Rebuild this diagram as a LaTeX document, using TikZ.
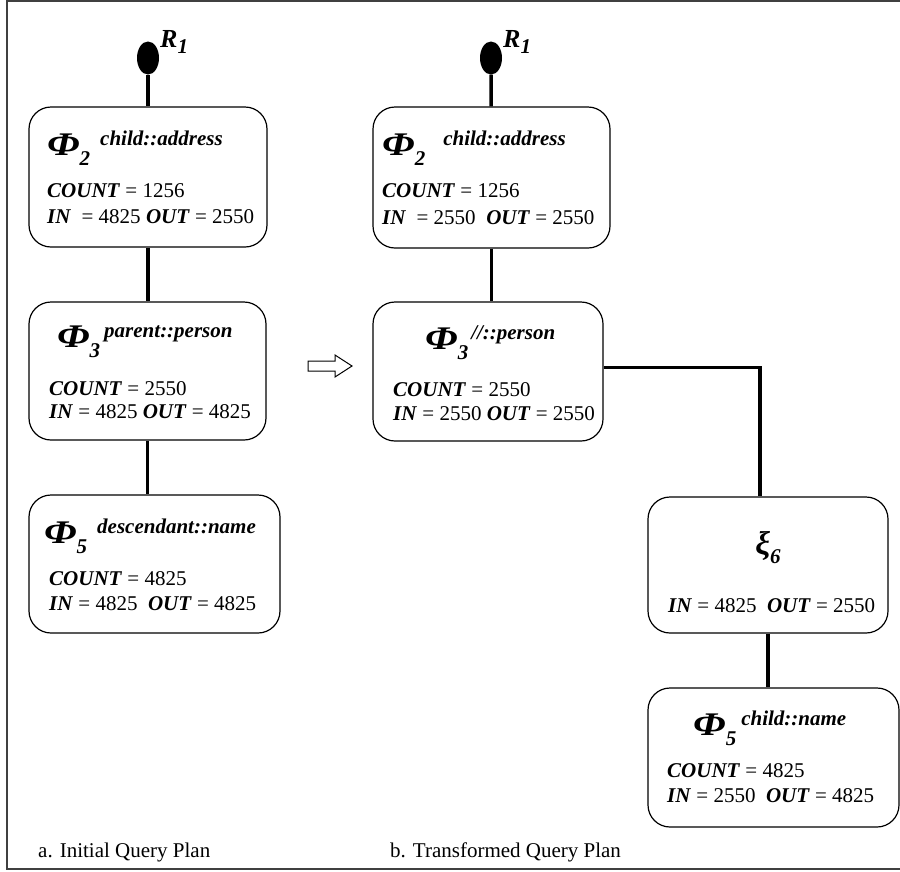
\documentclass[tikz,border=0pt]{standalone}
\usepackage{fontspec}
\setmainfont{Liberation Serif}
\usetikzlibrary{shapes.geometric}
\newcommand{\bfit}[1]{\textbf{\textit{#1}}}
\newcommand{\qop}[4][8pt]{{\fontsize{33}{33}\selectfont\scalebox{1.25}[1]{\bfit{#2}}}\raisebox{-10pt}{\bfit{#3}}\hspace{#1}\raisebox{10pt}{\bfit{#4}}}
\newcommand{\rootlab}{{\fontsize{26}{26}\selectfont\bfit{R}}\raisebox{-6pt}{\bfit{1}}}
\tikzset{
  opbox/.style={draw, rounded corners=22pt, line width=1.2pt, inner sep=0pt},
  wire/.style={line width=3.5pt},
  rootdot/.style={ellipse, fill=black, inner sep=0pt, minimum width=22pt, minimum height=33pt},
  info/.style={anchor=base west, inner sep=0pt},
}
\begin{document}
\begin{tikzpicture}[x=1pt, y=-1pt, every node/.style={font=\fontsize{21}{25}\selectfont}]
        \useasboundingbox (0,0) rectangle (900,871);
        \draw [line width=2pt, black!75] (900,1) -- (7,1) -- (7,869) -- (900,869);
        \node [rootdot] (lroot) at (148,58) {};
        \node [info] (lrootlab) at (160,47) {\rootlab};
        \node [opbox, minimum width=238pt, minimum height=140pt] (lb1) at (148,177) {};
        \node [info] (lb1h) at (47,155) {\qop[10pt]{Φ}{2}{child::address}};
        \node [info] (lb1c) at (47,197) {\bfit{COUNT} = 1256};
        \node [info] (lb1n) at (47,223) {\bfit{IN}\ \ = 4825 \bfit{OUT} = 2550};
        \node [opbox, minimum width=237pt, minimum height=138pt] (lb2) at (147.5,371) {};
        \node [info] (lb2h) at (57,347) {\qop[4pt]{Φ}{3}{parent::person}};
        \node [info] (lb2c) at (49,395) {\bfit{COUNT} = 2550};
        \node [info] (lb2n) at (49,418) {\bfit{IN} = 4825 \bfit{OUT} = 4825};
        \node [opbox, minimum width=251pt, minimum height=138pt] (lb3) at (154.5,564) {};
        \node [info] (lb3h) at (44,543) {\qop[10pt]{Φ}{5}{descendant::name}};
        \node [info] (lb3c) at (49,585) {\bfit{COUNT} = 4825};
        \node [info] (lb3n) at (49,610) {\bfit{IN} = 4825\ \ \bfit{OUT} = 4825};
        \draw [wire] (lroot) -- (lb1);
        \draw [wire] (lb1.south) -- (lb1.south |- lb2.north);
        \draw [wire] (lb2.south) -- (lb2.south |- lb3.north);
        \draw [line width=1pt] (308,361) -- (335,361) -- (335,355) -- (352,366) -- (335,377) -- (335,371) -- (308,371) -- cycle;
        \node [rootdot] (rroot) at (491,58) {};
        \node [info] (rrootlab) at (503,47) {\rootlab};
        \node [opbox, minimum width=237pt, minimum height=141pt] (rb1) at (491.5,177.5) {};
        \node [info] (rb1h) at (382,155) {\qop[18pt]{Φ}{2}{child::address}};
        \node [info] (rb1c) at (382,197) {\bfit{COUNT} = 1256};
        \node [info] (rb1n) at (382,224) {\bfit{IN}\ \ = 2550\ \ \bfit{OUT} = 2550};
        \node [opbox, minimum width=230pt, minimum height=139pt] (rb2) at (488,371.5) {};
        \node [info] (rb2h) at (425,349) {\qop[3pt]{Φ}{3}{//::person}};
        \node [info] (rb2c) at (393,396) {\bfit{COUNT} = 2550};
        \node [info] (rb2n) at (393,420) {\bfit{IN} = 2550 \bfit{OUT} = 2550};
        \node [opbox, minimum width=240pt, minimum height=136pt] (rxi) at (768,565) {};
        \node (rxih) at (768,548) {{\fontsize{33}{33}\selectfont\bfit{ξ}}\raisebox{-9pt}{\bfit{6}}};
        \node [info] (rxin) at (668,612) {\bfit{IN} = 4825\ \ \bfit{OUT} = 2550};
        \node [opbox, minimum width=251pt, minimum height=139pt] (rb5) at (773.5,757.5) {};
        \node [info] (rb5h) at (693,735) {\qop[5pt]{Φ}{5}{child::name}};
        \node [info] (rb5c) at (667,777) {\bfit{COUNT} = 4825};
        \node [info] (rb5n) at (667,802) {\bfit{IN} = 2550\ \ \bfit{OUT} = 4825};
        \draw [wire] (rroot) -- (rb1);
        \draw [wire] (rb1.south) -- (rb1.south |- rb2.north);
        \draw [wire] ([yshift=4pt]rb2.east) -| ([xshift=-8pt]rxi.north);
        \draw [wire] (rxi.south) -- (rxi.south |- rb5.north);
        \node [info] (capa) at (38,857) {a. Initial Query Plan};
        \node [info] (capb) at (390,857) {b. Transformed Query Plan};
      \end{tikzpicture}
\end{document}
